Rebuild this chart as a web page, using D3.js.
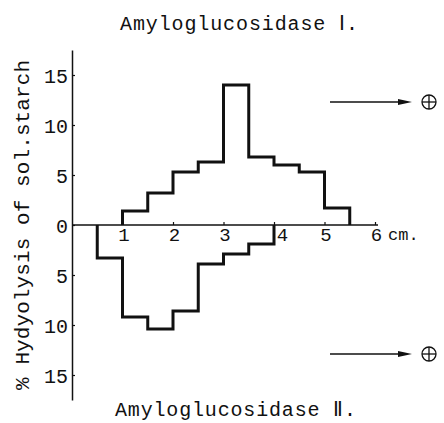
<!DOCTYPE html>
<html>
<head>
<meta charset="utf-8">
<script src="https://cdn.jsdelivr.net/npm/d3@7"></script>
<style>
  body { margin: 0; background: #fff; }
  svg text { font-family: "Liberation Mono", "DejaVu Sans Mono", monospace; fill: #111; }
</style>
</head>
<body>
<div id="chart"></div>
<script>
// step edges (cm) and % hydrolysis for each fraction
const edgesI = [1, 1.5, 2, 2.5, 3, 3.5, 4, 4.5, 5, 5.5];
const valuesI = [1.4, 3.2, 5.3, 6.3, 14.0, 6.8, 6.0, 5.3, 1.7];
const edgesII = [0.5, 1, 1.5, 2, 2.5, 3, 3.5, 4];
const valuesII = [3.3, 9.2, 10.4, 8.6, 3.9, 2.9, 1.9];

const xTicks = [1, 2, 3, 4, 5, 6];
const yTicks = [15, 10, 5, 0, -5, -10, -15];

const width = 444;
const height = 423;
const ink = '#111';

const svg = d3.select('#chart')
  .append('svg')
  .attr('width', width)
  .attr('height', height);

const x = d3.scaleLinear().domain([0, 6]).range([72, 375]);
const y = d3.scaleLinear().domain([-17.5, 17.5]).range([400, 50]);

// y axis: ticks point inward, labels on the left
const yAxis = d3.axisLeft(y)
  .tickValues(yTicks)
  .tickSizeInner(-3)
  .tickSizeOuter(0)
  .tickPadding(4)
  .tickFormat((d) => Math.abs(d));

const gy = svg.append('g')
  .attr('transform', `translate(${x(0)},0)`)
  .call(yAxis);
gy.select('.domain').attr('stroke', ink).attr('stroke-width', 1.5);
gy.selectAll('.tick line').attr('stroke', ink).attr('stroke-width', 1.2);
gy.selectAll('.tick text')
  .style('font-size', '20px')
  .attr('dy', '0.36em');

// x axis along zero line, ticks pointing up
const xAxis = d3.axisBottom(x)
  .tickValues(xTicks)
  .tickSizeInner(-3)
  .tickSizeOuter(0)
  .tickPadding(3)
  .tickFormat((d) => d);

const gx = svg.append('g')
  .attr('transform', `translate(0,${y(0)})`)
  .call(xAxis);
gx.select('.domain')
  .attr('d', `M${x(0)},0H${x(6) + 3}`)
  .attr('stroke', ink)
  .attr('stroke-width', 1.5);
gx.selectAll('.tick line').attr('stroke', ink).attr('stroke-width', 1.2);
gx.selectAll('.tick text')
  .style('font-size', '19px')
  .attr('dx', (d) => (d === 4 ? 8 : 1));

gx.append('text')
  .attr('x', x(6) + 13)
  .attr('y', 3)
  .attr('dy', '0.71em')
  .attr('text-anchor', 'start')
  .style('font-size', '17px')
  .text('cm.');

// step outlines
function stepPoints(edges, values, sign) {
  const pts = [[edges[0], 0]];
  values.forEach((v, i) => pts.push([edges[i], sign * v]));
  pts.push([edges[edges.length - 1], sign * values[values.length - 1]]);
  pts.push([edges[edges.length - 1], 0]);
  return pts;
}

const line = d3.line()
  .x((d) => x(d[0]))
  .y((d) => y(d[1]))
  .curve(d3.curveStepAfter);

svg.append('path')
  .datum(stepPoints(edgesI, valuesI, 1))
  .attr('d', line)
  .attr('fill', 'none')
  .attr('stroke', ink)
  .attr('stroke-width', 3)
  .attr('stroke-linejoin', 'miter');

svg.append('path')
  .datum(stepPoints(edgesII, valuesII, -1))
  .attr('d', line)
  .attr('fill', 'none')
  .attr('stroke', ink)
  .attr('stroke-width', 3)
  .attr('stroke-linejoin', 'miter');

// titles
svg.append('text')
  .attr('x', 120)
  .attr('y', 30)
  .attr('textLength', 238)
  .attr('lengthAdjust', 'spacing')
  .style('font-size', '20px')
  .text('Amyloglucosidase Ⅰ.');

svg.append('text')
  .attr('x', 115)
  .attr('y', 416)
  .attr('textLength', 241)
  .attr('lengthAdjust', 'spacing')
  .style('font-size', '20px')
  .text('Amyloglucosidase Ⅱ.');

// y label
svg.append('text')
  .attr('transform', 'translate(29,225) rotate(-90)')
  .attr('x', -165)
  .attr('textLength', 330)
  .attr('lengthAdjust', 'spacing')
  .style('font-size', '21px')
  .text('% Hydyolysis of sol.starch');

// migration arrows toward anode
function anodeArrow(yPos) {
  const g = svg.append('g');
  g.append('line')
    .attr('x1', 330).attr('x2', 400)
    .attr('y1', yPos).attr('y2', yPos)
    .attr('stroke', ink).attr('stroke-width', 1.5);
  g.append('path')
    .attr('d', `M398,${yPos - 3}L412,${yPos}L398,${yPos + 3}Z`)
    .attr('fill', ink);
  g.append('circle')
    .attr('cx', 429).attr('cy', yPos).attr('r', 7)
    .attr('fill', 'none').attr('stroke', ink).attr('stroke-width', 1.3);
  g.append('line')
    .attr('x1', 422).attr('x2', 436)
    .attr('y1', yPos).attr('y2', yPos)
    .attr('stroke', ink).attr('stroke-width', 1.3);
  g.append('line')
    .attr('x1', 429).attr('x2', 429)
    .attr('y1', yPos - 7).attr('y2', yPos + 7)
    .attr('stroke', ink).attr('stroke-width', 1.3);
}
anodeArrow(102);
anodeArrow(354);
</script>
</body>
</html>
